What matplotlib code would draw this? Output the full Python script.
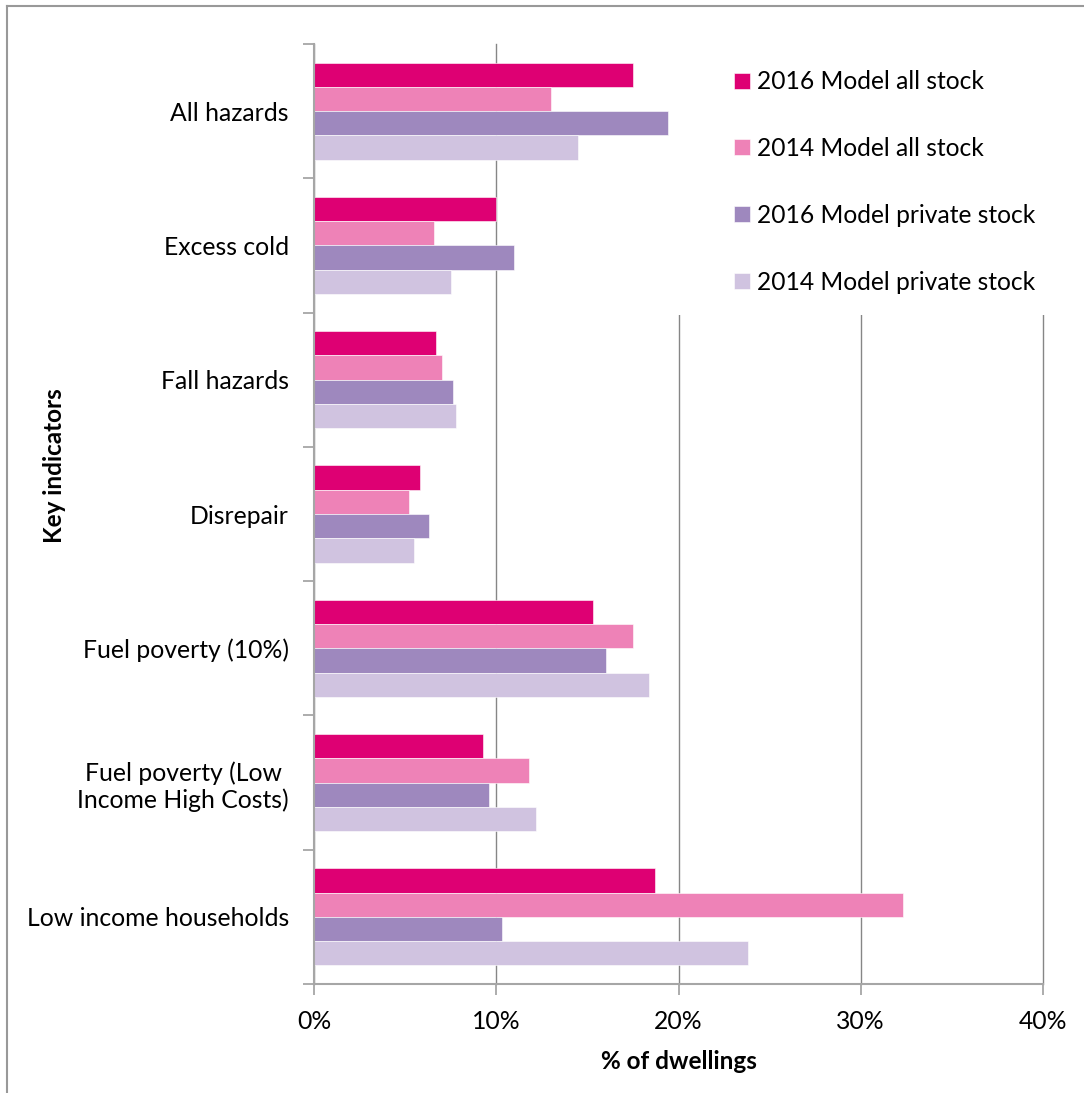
import numpy as np
import matplotlib.pyplot as plt
from matplotlib.lines import Line2D
from matplotlib.patches import Rectangle

plt.rcParams['font.family'] = ['Lato', 'DejaVu Sans']

# 数据
categories = ['All hazards', 'Excess cold', 'Fall hazards', 'Disrepair',
              'Fuel poverty (10%)', 'Fuel poverty (Low\nIncome High Costs)',
              'Low income households']
series_names = ['2016 Model all stock', '2014 Model all stock',
                '2016 Model private stock', '2014 Model private stock']
all_2016 = [17.5, 10.0, 6.7, 5.8, 15.3, 9.3, 18.7]
all_2014 = [13.0, 6.6, 7.0, 5.2, 17.5, 11.8, 32.3]
private_2016 = [19.4, 11.0, 7.6, 6.3, 16.0, 9.6, 10.3]
private_2014 = [14.5, 7.5, 7.8, 5.5, 18.4, 12.2, 23.8]
xticks = [0, 10, 20, 30, 40]
colors = ['#de0073', '#ee82b7', '#9e88be', '#d0c3e0']

fig = plt.figure(figsize=(10.84, 10.93), dpi=100)
ax = fig.add_axes([314 / 1084, 1 - 984 / 1093, 729 / 1084, 940 / 1093])

n = len(categories)
y = np.arange(n)
bar_h = 0.181
values = [all_2016, all_2014, private_2016, private_2014]
for i, (vals, name, c) in enumerate(zip(values, series_names, colors)):
    ax.barh(y + (i - 1.5) * bar_h, vals, height=bar_h, color=c, label=name,
            edgecolor='white', linewidth=0.4, zorder=2)

ax.set_ylim(n - 0.5, -0.5)
ax.set_xlim(0, 40)

# 类别边界刻度
ax.set_yticks(np.arange(-0.5, n, 1))
ax.set_yticklabels([])
ax.set_yticks(y, minor=True)
ax.set_yticklabels(categories, minor=True, fontsize=17.8, ha='right',
                   multialignment='center')
ax.tick_params(axis='y', which='major', length=8, color='#a6a6a6', width=1.3)
ax.tick_params(axis='y', which='minor', length=0, pad=18)

ax.set_xticks(xticks)
ax.set_xticklabels([f'{t}%' for t in xticks], fontsize=17.8)
ax.tick_params(axis='x', length=8, color='#a6a6a6', width=1.3, pad=11)
ax.grid(axis='x', color='#868686', linewidth=1, zorder=0)
for gl in ax.get_xgridlines():
    gl.set_clip_on(False)
ax.set_axisbelow(True)

for s in ['top', 'right']:
    ax.spines[s].set_visible(False)
for s in ['left', 'bottom']:
    ax.spines[s].set_color('#a6a6a6')
    ax.spines[s].set_linewidth(1.5)

ax.set_xlabel('% of dwellings', fontsize=17.5, fontweight='bold', labelpad=12)
fig.text(55 / 1084, 1 - 466 / 1093, 'Key indicators', rotation=90,
         fontsize=17.5, fontweight='bold', ha='center', va='center')

# 图例区域的白色背景
ax.add_patch(Rectangle((673 / 1084, 1 - 315 / 1093), 411 / 1084, 275 / 1093,
                       transform=fig.transFigure, facecolor='white',
                       edgecolor='none', zorder=1, clip_on=False))

leg = ax.legend(loc='upper left', bbox_to_anchor=(722 / 1084, 1 - 58 / 1093),
                bbox_transform=fig.transFigure, frameon=False, fontsize=17.7,
                handlelength=0.62, handleheight=0.62, handletextpad=0.3,
                labelspacing=1.78, borderpad=0.5, borderaxespad=0)
leg.set_zorder(5)

# 外框
fig.add_artist(Line2D([7 / 1084, 7 / 1084], [0, 1 - 6 / 1093], color='#999999',
                      linewidth=1.5))
fig.add_artist(Line2D([7 / 1084, 1], [1 - 6 / 1093, 1 - 6 / 1093], color='#999999',
                      linewidth=1.5))

plt.savefig('out.png', dpi=100)
